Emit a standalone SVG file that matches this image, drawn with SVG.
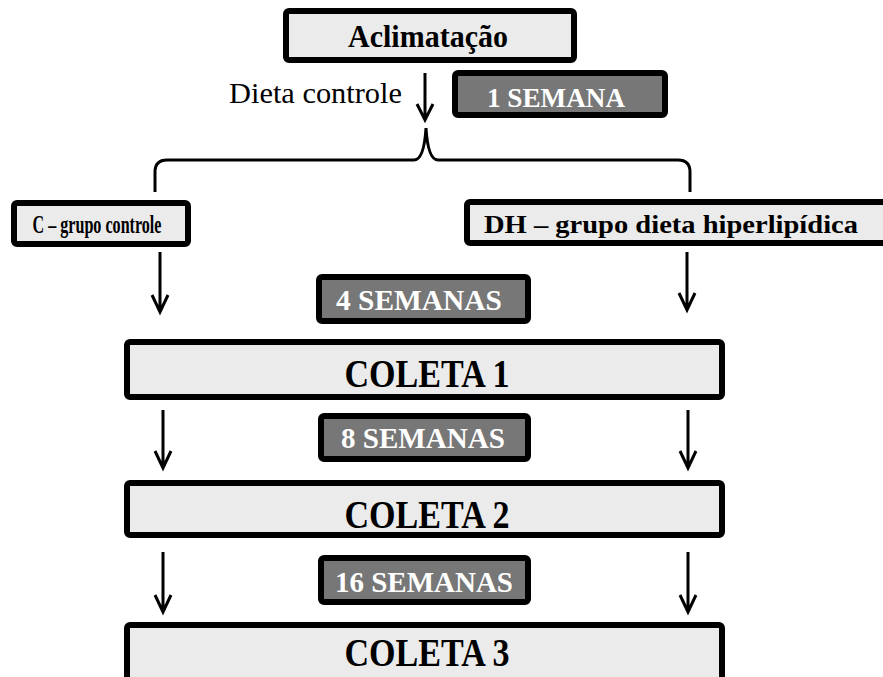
<svg xmlns="http://www.w3.org/2000/svg" width="883" height="677" viewBox="0 0 883 677">
<style>
.lt{fill:#ebebeb;stroke:#000;stroke-width:6}
.dk{fill:#777;stroke:#000;stroke-width:6}
.tb{font-family:"Liberation Serif",serif;font-weight:bold;fill:#000;text-anchor:middle}
.tw{font-family:"Liberation Serif",serif;font-weight:bold;fill:#fff;text-anchor:middle}
.tn{font-family:"Liberation Serif",serif;fill:#000}
.ln{fill:none;stroke:#000;stroke-width:3}
</style>
<rect width="883" height="677" fill="#fff"/>
<g id="aclimatacao"><rect class="lt" x="286" y="11" width="288" height="49" rx="3"/><text class="tb" x="428" y="47" font-size="32" textLength="160" lengthAdjust="spacingAndGlyphs">Aclimatação</text></g>
<g id="semana1"><rect class="dk" x="455" y="73" width="210" height="42" rx="3"/><text class="tw" x="556" y="107" font-size="28" textLength="138" lengthAdjust="spacingAndGlyphs">1 SEMANA</text></g>
<g id="dieta"><text class="tn" x="229" y="103" font-size="29" textLength="173" lengthAdjust="spacingAndGlyphs">Dieta controle</text></g>
<g id="grupoC"><rect class="lt" x="14" y="203" width="174" height="41" rx="3"/><text class="tb" x="97" y="233" font-size="26" textLength="129" lengthAdjust="spacingAndGlyphs">C – grupo controle</text></g>
<g id="grupoDH"><rect class="lt" x="467" y="202" width="422" height="41" rx="3"/><text class="tb" x="671" y="233" font-size="26" textLength="374" lengthAdjust="spacingAndGlyphs">DH – grupo dieta hiperlipídica</text></g>
<g id="semana4"><rect class="dk" x="319" y="277" width="209" height="44" rx="3"/><text class="tw" x="419" y="310" font-size="29" textLength="166" lengthAdjust="spacingAndGlyphs">4 SEMANAS</text></g>
<g id="coleta1"><rect class="lt" x="127" y="342" width="595" height="55" rx="3"/><text class="tb" x="427" y="387" font-size="41" textLength="165" lengthAdjust="spacingAndGlyphs">COLETA 1</text></g>
<g id="semana8"><rect class="dk" x="321" y="416" width="207" height="43" rx="3"/><text class="tw" x="423" y="448" font-size="29" textLength="164" lengthAdjust="spacingAndGlyphs">8 SEMANAS</text></g>
<g id="coleta2"><rect class="lt" x="127" y="483" width="595" height="52" rx="3"/><text class="tb" x="427" y="528" font-size="41" textLength="165" lengthAdjust="spacingAndGlyphs">COLETA 2</text></g>
<g id="semana16"><rect class="dk" x="321" y="558" width="207" height="44" rx="3"/><text class="tw" x="424" y="592" font-size="29" textLength="178" lengthAdjust="spacingAndGlyphs">16 SEMANAS</text></g>
<g id="coleta3"><rect class="lt" x="127" y="625" width="595" height="60" rx="3"/><text class="tb" x="427" y="666" font-size="41" textLength="165" lengthAdjust="spacingAndGlyphs">COLETA 3</text></g>
<g id="connectors">
<path class="ln" d="M425 73 V119 M417 104 L425 120 L433 104"/>
<path class="ln" stroke-width="2.5" d="M155 192 V172 Q155 160 167 160 H414 Q424 160 426 128 Q428 160 438 160 H678 Q690 160 690 172 V192"/>
<path class="ln" d="M160 252 V311 M152 295 L160 312 L168 295"/>
<path class="ln" d="M687 252 V309 M679 293 L687 310 L695 293"/>
<path class="ln" d="M163 410 V467 M155 451 L163 468 L171 451"/>
<path class="ln" d="M688 410 V467 M680 451 L688 468 L696 451"/>
<path class="ln" d="M163 552 V611 M155 595 L163 612 L171 595"/>
<path class="ln" d="M688 552 V611 M680 595 L688 612 L696 595"/>
</g>
</svg>
